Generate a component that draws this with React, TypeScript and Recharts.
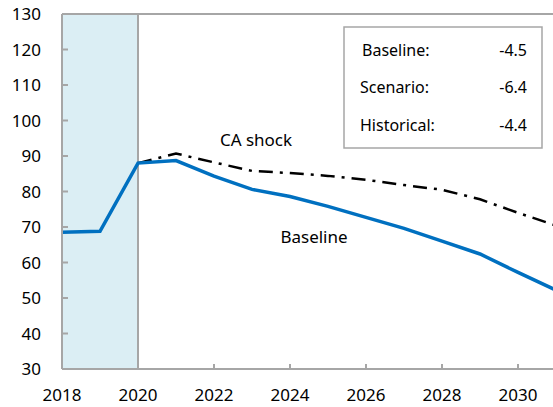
import React from 'react';
import {
  LineChart,
  Line,
  XAxis,
  YAxis,
  ReferenceArea,
  ReferenceLine,
} from 'recharts';

const years = [2018, 2019, 2020, 2021, 2022, 2023, 2024, 2025, 2026, 2027, 2028, 2029, 2030, 2031];
const baseline = [68.5, 68.8, 88.0, 88.7, 84.3, 80.6, 78.6, 75.8, 72.7, 69.6, 66.0, 62.4, 57.2, 52.2];
const caShock = [null, null, 88.0, 90.7, 88.2, 85.8, 85.2, 84.4, 83.3, 81.8, 80.5, 77.8, 74.0, 70.4];

const xTicks = [2018, 2020, 2022, 2024, 2026, 2028, 2030];
const yTicks = [30, 40, 50, 60, 70, 80, 90, 100, 110, 120, 130];

const legendRows = [
  { label: 'Baseline:', value: '-4.5' },
  { label: 'Scenario:', value: '-6.4' },
  { label: 'Historical:', value: '-4.4' },
];

const data = years.map((year, i) => ({
  year,
  baseline: baseline[i],
  caShock: caShock[i],
}));

const FONT = '"Noto Sans", "Open Sans", sans-serif';
const AXIS = '#a6a6a6';

const YTick = (props: any) => {
  const { x, y, payload } = props;
  return (
    <g>
      {payload.value !== 30 && payload.value !== 130 && (
        <line x1={x + 20} x2={x + 26} y1={y} y2={y} stroke={AXIS} strokeWidth={2} />
      )}
      <text x={x - 1} y={y} dy="0.36em" textAnchor="end" fontSize={17} fill="#000" fontFamily={FONT}>
        {payload.value}
      </text>
    </g>
  );
};

const XTick = (props: any) => {
  const { x, y, payload } = props;
  return (
    <g>
      {payload.value !== 2018 && payload.value !== 2020 && (
        <line x1={x} x2={x} y1={y - 19} y2={y - 25} stroke={AXIS} strokeWidth={2} />
      )}
      <text x={x} y={y} dy="0.71em" textAnchor="middle" fontSize={17} fill="#000" fontFamily={FONT}>
        {payload.value}
      </text>
    </g>
  );
};

export default function App() {
  return (
    <div style={{ position: 'fixed', left: 0, top: 0, width: 553, height: 407, overflow: 'hidden', background: '#fff' }}>
      <LineChart width={566} height={407} data={data} margin={{ top: 14, right: 10, left: 0, bottom: 8 }}>
        <ReferenceArea x1={2018} x2={2020} y1={30} y2={130} fill="#dbeef4" fillOpacity={1} stroke="none" />
        <ReferenceLine x={2020} stroke={AXIS} strokeWidth={2} />
        <ReferenceLine y={130} stroke={AXIS} strokeWidth={2} />
        <XAxis
          dataKey="year"
          type="number"
          domain={[2018, 2031]}
          ticks={xTicks}
          tick={<XTick />}
          tickLine={false}
          tickSize={0}
          tickMargin={20}
          height={30}
          axisLine={{ stroke: AXIS, strokeWidth: 2 }}
          allowDataOverflow
        />
        <YAxis
          type="number"
          domain={[30, 130]}
          ticks={yTicks}
          tick={<YTick />}
          tickLine={false}
          tickSize={0}
          tickMargin={20}
          width={62}
          axisLine={{ stroke: AXIS, strokeWidth: 2 }}
        />
        <Line
          dataKey="caShock"
          stroke="#000"
          strokeWidth={2.5}
          strokeDasharray="14 7 3 7"
          dot={false}
          isAnimationActive={false}
          connectNulls={false}
        />
        <Line
          dataKey="baseline"
          stroke="#0070c0"
          strokeWidth={3.5}
          dot={false}
          isAnimationActive={false}
        />
        <text x={256} y={140} dy="0.36em" textAnchor="middle" fontSize={17} fontFamily={FONT} fill="#000">
          CA shock
        </text>
        <text x={314} y={237} dy="0.36em" textAnchor="middle" fontSize={17} fontFamily={FONT} fill="#000">
          Baseline
        </text>
        <rect x={344} y={27} width={198} height={121} fill="#fff" stroke={AXIS} strokeWidth={1.5} />
        {legendRows.map((row, i) => (
          <g key={row.label}>
            <text x={row.label === 'Baseline:' ? 362 : 360} y={50 + i * 37.5} dy="0.36em" fontSize={16} fontFamily={FONT} fill="#000">
              {row.label}
            </text>
            <text x={527} y={50 + i * 37.5} dy="0.36em" textAnchor="end" fontSize={16} fontFamily={FONT} fill="#000">
              {row.value}
            </text>
          </g>
        ))}
      </LineChart>
    </div>
  );
}
